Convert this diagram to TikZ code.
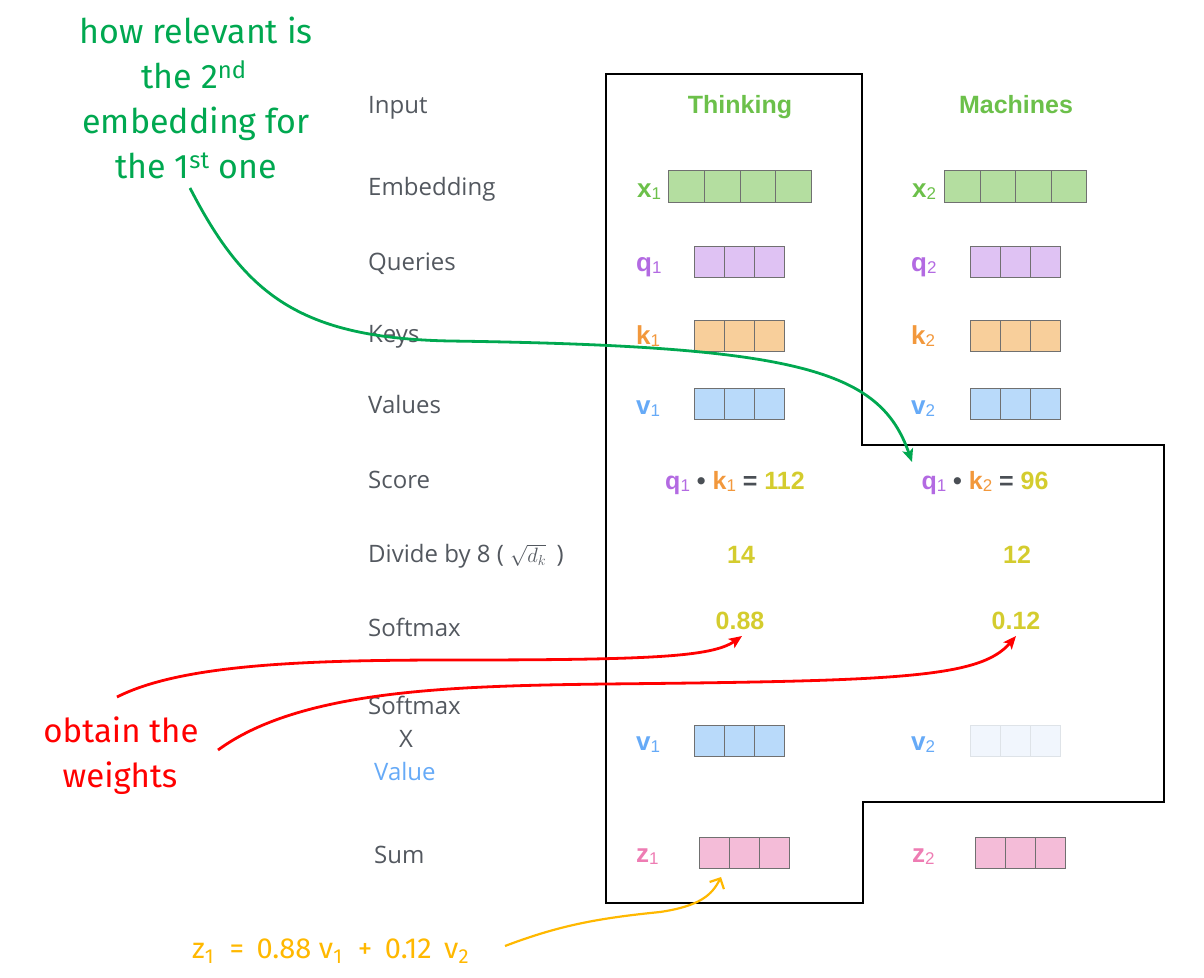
\documentclass[tikz,border=0pt]{standalone}
\usepackage{fontspec}
\setmainfont{Open Sans}
\newfontfamily\arialf{Liberation Sans}
\newfontfamily\handf{Fira Sans}
\usetikzlibrary{arrows.meta}
\definecolor{txtgrey}{RGB}{83,88,95}
\definecolor{dotgrey}{RGB}{74,79,85}
\definecolor{cellgrey}{RGB}{112,112,112}
\definecolor{titlegreen}{RGB}{108,192,74}
\definecolor{xfill}{RGB}{180,222,160}
\definecolor{qtxt}{RGB}{179,106,226}
\definecolor{qfill}{RGB}{223,194,243}
\definecolor{ktxt}{RGB}{242,152,60}
\definecolor{kfill}{RGB}{248,207,155}
\definecolor{vtxt}{RGB}{102,170,247}
\definecolor{vfill}{RGB}{185,218,250}
\definecolor{ztxt}{RGB}{238,124,179}
\definecolor{zfill}{RGB}{244,188,216}
\definecolor{numyel}{RGB}{212,204,46}
\definecolor{vfade}{RGB}{241,246,253}
\definecolor{vfadeline}{RGB}{222,227,232}
\definecolor{anngreen}{RGB}{0,168,80}
\definecolor{annred}{RGB}{255,0,0}
\definecolor{annyel}{RGB}{255,184,0}
\newcommand\lsub[1]{\raisebox{-2pt}{\mdseries\fontsize{17}{17}\selectfont #1}}
\newcommand\cellrow[6]{%
  \foreach \k in {1,...,#4}{%
    \node[cell, #6, minimum width=#5pt] (#1-\k) at ({#2+(\k-1)*#5},#3) {};}}
\begin{document}
\begin{tikzpicture}[x=1pt,y=-1pt,
  rowlabel/.style={anchor=base west, inner sep=0pt, text=txtgrey, font=\fontsize{24}{28}\selectfont},
  word/.style={anchor=base, inner sep=0pt, font=\arialf\bfseries\fontsize{25}{28}\selectfont},
  sublab/.style={anchor=base west, inner sep=0pt, font=\arialf\bfseries\fontsize{26}{28}\selectfont},
  cell/.style={draw=cellgrey, line width=1.2pt, minimum height=31pt, inner sep=0pt, anchor=north west},
  outline/.style={draw=black, line width=1.1pt},
  hand/.style={anchor=base, inner sep=0pt, font=\handf\fontsize{34}{40}\selectfont},
  annarrow/.style={line width=2.8pt, -{Stealth[length=13pt,width=11pt,inset=3pt]}}
]
\useasboundingbox (0,0) rectangle (1204,977);

% outline
\draw[outline] (606,74) -- (862,74) -- (862,445) -- (1164,445) -- (1164,802)
  -- (863,802) -- (863,903) -- (606,903) -- cycle;

% row labels
\node[rowlabel] (lin) at (368,113) {Input};
\node[rowlabel] (lemb) at (368,195) {Embedding};
\node[rowlabel] (lq) at (368,270) {Queries};
\node[rowlabel] (lk) at (368,342) {Keys};
\node[rowlabel] (lv) at (368,413) {Values};
\node[rowlabel] (lsc) at (368,488) {Score};
\node[rowlabel] (ldiv) at (368,562) {Divide by 8 ( {\fontsize{20}{20}\selectfont$\sqrt{d_k}$}\ \,)};
\node[rowlabel] (lsm) at (368,636) {Softmax};
\node[rowlabel] (lsm2) at (368,714) {Softmax};
\node[rowlabel, anchor=base] (lx) at (406,747) {X};
\node[rowlabel, text=vtxt] (lval) at (374,780) {Value};
\node[rowlabel] (lsum) at (374,863) {Sum};

% words
\node[word, text=titlegreen] (w1) at (740,113) {Thinking};
\node[word, text=titlegreen] (w2) at (1016,113) {Machines};

% vector labels
\node[sublab, text=titlegreen] (lx1) at (637,197) {x\lsub{1}};
\node[sublab, text=titlegreen] (lx2) at (912,197) {x\lsub{2}};
\node[sublab, text=qtxt] (lq1) at (636,271) {q\lsub{1}};
\node[sublab, text=qtxt] (lq2) at (911,271) {q\lsub{2}};
\node[sublab, text=ktxt] (lk1) at (636,344) {k\lsub{1}};
\node[sublab, text=ktxt] (lk2) at (911,344) {k\lsub{2}};
\node[sublab, text=vtxt] (lv1) at (636,414) {v\lsub{1}};
\node[sublab, text=vtxt] (lv2) at (911,414) {v\lsub{2}};
\node[sublab, text=vtxt] (lv1b) at (636,750) {v\lsub{1}};
\node[sublab, text=vtxt] (lv2b) at (911,750) {v\lsub{2}};
\node[sublab, text=ztxt] (lz1) at (636,862) {z\lsub{1}};
\node[sublab, text=ztxt] (lz2) at (912,862) {z\lsub{2}};

% vectors
\cellrow{x1}{668}{170}{4}{35.75}{fill=xfill, minimum height=32pt}
\cellrow{x2}{944}{170}{4}{35.5}{fill=xfill, minimum height=32pt}
\cellrow{q1}{694}{246}{3}{30}{fill=qfill}
\cellrow{q2}{970}{246}{3}{30}{fill=qfill}
\cellrow{k1}{694}{320}{3}{30}{fill=kfill}
\cellrow{k2}{970}{320}{3}{30}{fill=kfill}
\cellrow{v1}{694}{388}{3}{30}{fill=vfill}
\cellrow{v2}{970}{388}{3}{30}{fill=vfill}
\cellrow{v1b}{694}{725}{3}{30}{fill=vfill}
\cellrow{v2b}{970}{725}{3}{30}{fill=vfade, draw=vfadeline}
\cellrow{z1}{699}{837}{3}{30}{fill=zfill}
\cellrow{z2}{975}{837}{3}{30}{fill=zfill}

% score, divide, softmax
\node[word] (s1) at (735,489) {\textcolor{qtxt}{q\lsub{1}} \textcolor{dotgrey}{\textbullet} \textcolor{ktxt}{k\lsub{1}} \textcolor{dotgrey}{=} \textcolor{numyel}{112}};
\node[word] (s2) at (985,489) {\textcolor{qtxt}{q\lsub{1}} \textcolor{dotgrey}{\textbullet} \textcolor{ktxt}{k\lsub{2}} \textcolor{dotgrey}{=} \textcolor{numyel}{96}};
\node[word, text=numyel] (d1) at (741,563) {14};
\node[word, text=numyel] (d2) at (1017,563) {12};
\node[word, text=numyel] (p1) at (740,629) {0.88};
\node[word, text=numyel] (p2) at (1016,629) {0.12};

% annotations
\node[hand, text=anngreen] (n1a) at (196,43) {how relevant is};
\node[hand, text=anngreen] (n1b) at (194,88) {the 2\textsuperscript{nd}};
\node[hand, text=anngreen] (n1c) at (196,133) {embedding for};
\node[hand, text=anngreen] (n1d) at (196,178) {the 1\textsuperscript{st} one};
\node[hand, text=annred, font=\handf\fontsize{33}{38}\selectfont] (n2a) at (121,742) {obtain the};
\node[hand, text=annred, font=\handf\fontsize{33}{38}\selectfont] (n2b) at (120,787) {weights};
\node[hand, anchor=base west, text=annyel, font=\handf\fontsize{29}{32}\selectfont] (n3) at (192,958)
  {z\textsubscript{1} \ = \,0.88 v\textsubscript{1} \ + \,0.12 \,v\textsubscript{2}};

% connector end points
\coordinate (gs) at (190,188);
\coordinate (ge) at (912,462);
\coordinate (r1s) at (117,697);
\coordinate (r1e) at (742,636);
\coordinate (r2s) at (218,750);
\coordinate (r2e) at (1016,636);
\coordinate (ys) at (505,946);
\coordinate (ye) at (721,877);

\draw[annarrow, anngreen] (gs) .. controls (245,295) and (300,338) .. (450,341)
  .. controls (800,346) and (880,370) .. (ge);
\draw[annarrow, annred] (r1s) .. controls (180,665) and (300,660) .. (450,660)
  .. controls (650,660) and (712,657) .. (r1e);
\draw[annarrow, annred] (r2s) .. controls (300,690) and (450,686) .. (605,684)
  .. controls (900,681) and (980,678) .. (r2e);
\draw[annyel, line width=2.2pt, -{Straight Barb[length=8pt,width=16pt]}] (ys)
  .. controls (560,925) and (600,918) .. (660,912) .. controls (700,906) and (712,895) .. (ye);
\end{tikzpicture}
\end{document}
